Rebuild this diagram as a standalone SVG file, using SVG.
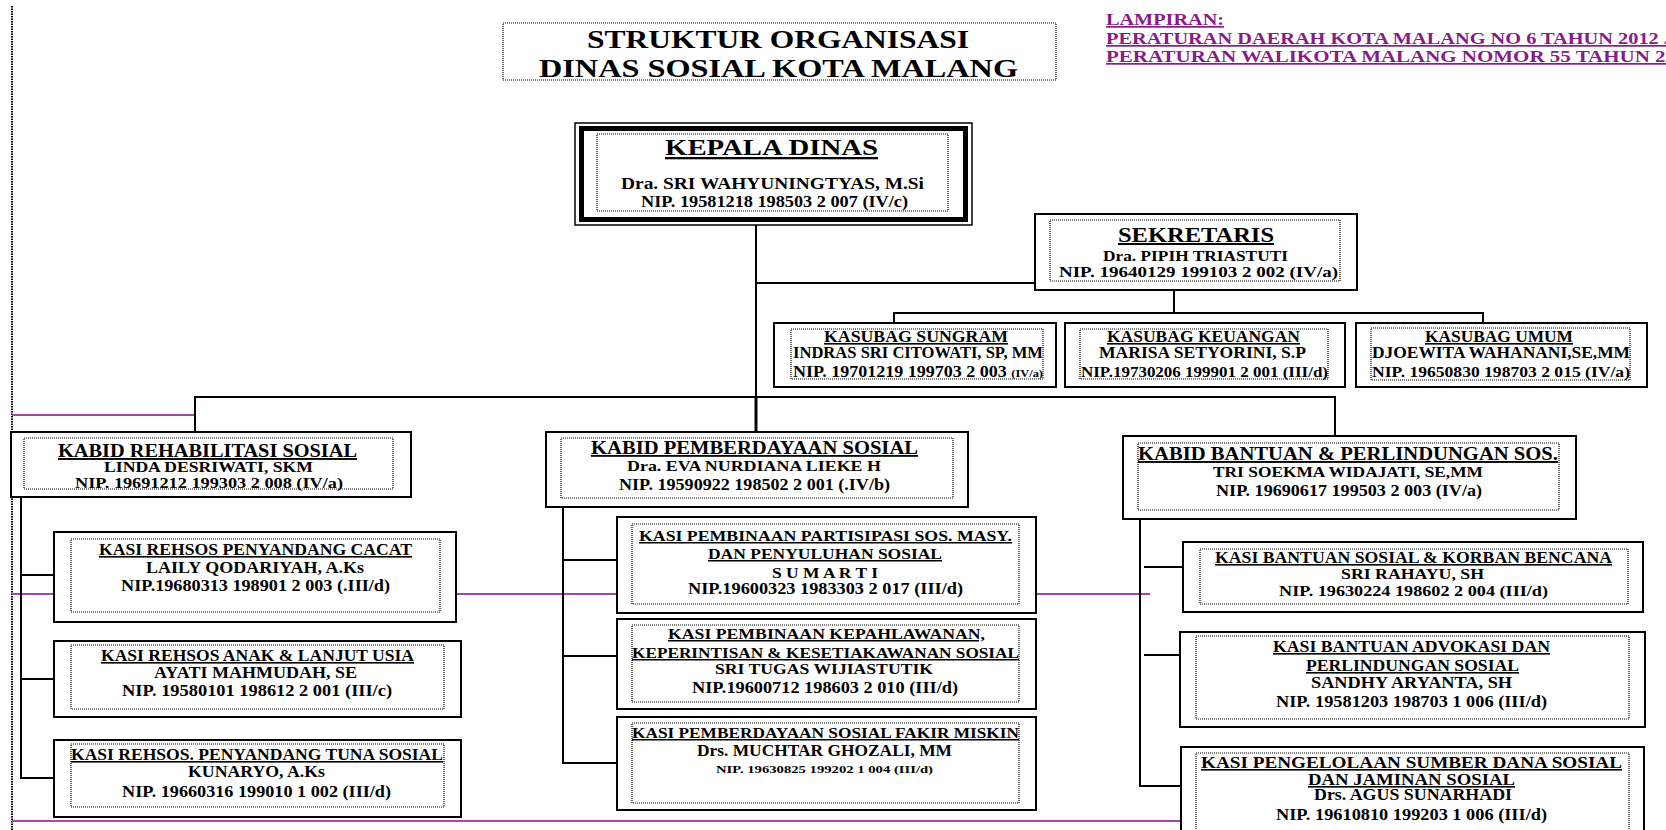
<svg xmlns="http://www.w3.org/2000/svg" width="1666" height="830" viewBox="0 0 1666 830">
<style>
.bg{fill:#fff}
.box{fill:#fff;stroke:#000;stroke-width:2}
.dot{fill:none;stroke:#000;stroke-width:1.2;stroke-dasharray:1 1}
.t{font-family:"Liberation Serif","Times New Roman",serif;font-weight:bold;fill:#000;font-size:16px}
.u{text-decoration:underline}
.p{fill:#8a1a8a;font-size:17px}
.conn{stroke:#000;stroke-width:2;fill:none}
.pur{stroke:#a347a8;stroke-width:2;fill:none}
.vdot{stroke:#000;stroke-width:2;stroke-dasharray:1.5 1;fill:none}
</style>
<rect class="bg" x="0" y="0" width="1666" height="830"/>

<g id="connectors">
<line class="vdot" x1="12" y1="6" x2="12" y2="830"/>
<line class="pur" x1="12" y1="415" x2="195" y2="415"/>
<line class="pur" x1="12" y1="594" x2="1150" y2="594"/>
<line class="pur" x1="12" y1="821" x2="1181" y2="821"/>
<line class="conn" x1="756" y1="225" x2="756" y2="397"/>
<line class="conn" x1="756" y1="397" x2="756" y2="432" style="stroke-width:3"/>
<line class="conn" x1="756" y1="283" x2="1035" y2="283"/>
<polyline class="conn" points="1174,290 1174,313"/>
<polyline class="conn" points="894,323 894,313 1483,313 1483,323"/>
<polyline class="conn" points="195,432 195,397 1335,397 1335,436"/>
<polyline class="conn" points="21,497 21,778 54,778"/>
<line class="conn" x1="21" y1="575" x2="54" y2="575"/>
<line class="conn" x1="21" y1="679" x2="54" y2="679"/>
<polyline class="conn" points="563,507 563,763 617,763"/>
<line class="conn" x1="563" y1="560" x2="617" y2="560"/>
<line class="conn" x1="563" y1="656" x2="617" y2="656"/>
<polyline class="conn" points="1140,519 1140,786 1181,786"/>
<line class="conn" x1="1144" y1="567" x2="1183" y2="567"/>
<line class="conn" x1="1144" y1="655" x2="1180" y2="655"/>
</g>

<g id="title">
<rect class="dot" x="503" y="23" width="553" height="57"/>
<text class="t" x="587" y="48" style="font-size:25px" textLength="382" lengthAdjust="spacingAndGlyphs">STRUKTUR ORGANISASI</text>
<text class="t" x="539" y="77" style="font-size:25px" textLength="479" lengthAdjust="spacingAndGlyphs">DINAS SOSIAL KOTA MALANG</text>
</g>

<g id="lampiran">
<text class="t p u" x="1106" y="25" textLength="118" lengthAdjust="spacingAndGlyphs">LAMPIRAN:</text>
<text class="t p u" x="1106" y="44" textLength="568" lengthAdjust="spacingAndGlyphs">PERATURAN DAERAH KOTA MALANG NO 6 TAHUN 2012 J</text>
<text class="t p u" x="1106" y="62" textLength="570" lengthAdjust="spacingAndGlyphs">PERATURAN WALIKOTA MALANG NOMOR 55 TAHUN 20</text>
</g>

<g id="kepala-dinas">
<rect x="575" y="123" width="397" height="102" fill="#fff" stroke="#000" stroke-width="1.5"/>
<rect x="581.5" y="128.5" width="384" height="91" fill="none" stroke="#000" stroke-width="5"/>
<rect class="dot" x="597" y="134" width="351" height="77"/>
<text class="t u" x="665" y="155" style="font-size:23px" textLength="213" lengthAdjust="spacingAndGlyphs">KEPALA DINAS</text>
<text class="t" x="621" y="189" textLength="303" lengthAdjust="spacingAndGlyphs">Dra. SRI WAHYUNINGTYAS, M.Si</text>
<text class="t" x="641" y="207" textLength="267" lengthAdjust="spacingAndGlyphs">NIP. 19581218 198503 2 007 (IV/c)</text>
</g>

<g id="sekretaris">
<rect class="box" x="1035" y="214" width="322" height="76"/>
<rect class="dot" x="1050" y="220" width="290" height="61"/>
<text class="t u" x="1118" y="242" style="font-size:20px" textLength="156" lengthAdjust="spacingAndGlyphs">SEKRETARIS</text>
<text class="t" x="1103" y="261" style="font-size:14px" textLength="185" lengthAdjust="spacingAndGlyphs">Dra. PIPIH TRIASTUTI</text>
<text class="t" x="1059" y="277" style="font-size:14px" textLength="279" lengthAdjust="spacingAndGlyphs">NIP. 19640129 199103 2 002 (IV/a)</text>
</g>

<g id="kasubag-sungram">
<rect class="box" x="774" y="323" width="282" height="64"/>
<rect class="dot" x="791" y="329" width="252" height="50"/>
<text class="t u" x="824" y="342" textLength="184" lengthAdjust="spacingAndGlyphs">KASUBAG SUNGRAM</text>
<text class="t" x="793" y="358" textLength="250" lengthAdjust="spacingAndGlyphs">INDRAS SRI CITOWATI, SP, MM</text>
<text class="t" x="793" y="377" textLength="250" lengthAdjust="spacingAndGlyphs">NIP. 19701219 199703 2 003 <tspan style="font-size:11px">(IV/a)</tspan></text>
</g>

<g id="kasubag-keuangan">
<rect class="box" x="1065" y="323" width="280" height="64"/>
<rect class="dot" x="1080" y="329" width="248" height="50"/>
<text class="t u" x="1107" y="342" textLength="193" lengthAdjust="spacingAndGlyphs">KASUBAG KEUANGAN</text>
<text class="t" x="1099" y="358" textLength="207" lengthAdjust="spacingAndGlyphs">MARISA SETYORINI, S.P</text>
<text class="t" x="1081" y="377" style="font-size:15px" textLength="247" lengthAdjust="spacingAndGlyphs">NIP.19730206 199901 2 001 (III/d)</text>
</g>

<g id="kasubag-umum">
<rect class="box" x="1356" y="323" width="291" height="64"/>
<rect class="dot" x="1371" y="328" width="259" height="52"/>
<text class="t u" x="1425" y="342" textLength="148" lengthAdjust="spacingAndGlyphs">KASUBAG UMUM</text>
<text class="t" x="1372" y="358" textLength="258" lengthAdjust="spacingAndGlyphs">DJOEWITA WAHANANI,SE,MM</text>
<text class="t" x="1372" y="377" style="font-size:15px" textLength="258" lengthAdjust="spacingAndGlyphs">NIP. 19650830 198703 2 015 (IV/a)</text>
</g>

<g id="kabid-rehabilitasi">
<rect class="box" x="11" y="432" width="400" height="65"/>
<rect class="dot" x="24" y="438" width="369" height="51"/>
<text class="t u" x="58" y="457" style="font-size:19px" textLength="299" lengthAdjust="spacingAndGlyphs">KABID REHABILITASI SOSIAL</text>
<text class="t" x="104" y="472" style="font-size:15px" textLength="209" lengthAdjust="spacingAndGlyphs">LINDA DESRIWATI, SKM</text>
<text class="t" x="75" y="488" style="font-size:15px" textLength="268" lengthAdjust="spacingAndGlyphs">NIP. 19691212 199303 2 008 (IV/a)</text>
</g>

<g id="kasi-rehsos-cacat">
<rect class="box" x="54" y="532" width="402" height="90"/>
<rect class="dot" x="71" y="539" width="369" height="73"/>
<text class="t u" x="99" y="555" textLength="313" lengthAdjust="spacingAndGlyphs">KASI REHSOS PENYANDANG CACAT</text>
<text class="t" x="146" y="573" textLength="218" lengthAdjust="spacingAndGlyphs">LAILY QODARIYAH, A.Ks</text>
<text class="t" x="121" y="591" textLength="269" lengthAdjust="spacingAndGlyphs">NIP.19680313 198901 2 003 (.III/d)</text>
</g>

<g id="kasi-rehsos-anak">
<rect class="box" x="54" y="641" width="407" height="76"/>
<rect class="dot" x="71" y="645" width="373" height="64"/>
<text class="t u" x="101" y="661" textLength="313" lengthAdjust="spacingAndGlyphs">KASI REHSOS ANAK &amp; LANJUT USIA</text>
<text class="t" x="154" y="678" textLength="203" lengthAdjust="spacingAndGlyphs">AYATI MAHMUDAH, SE</text>
<text class="t" x="122" y="696" textLength="270" lengthAdjust="spacingAndGlyphs">NIP. 19580101 198612 2 001 (III/c)</text>
</g>

<g id="kasi-rehsos-tuna">
<rect class="box" x="54" y="740" width="407" height="77"/>
<rect class="dot" x="71" y="744" width="373" height="63"/>
<text class="t u" x="71" y="760" textLength="372" lengthAdjust="spacingAndGlyphs">KASI REHSOS. PENYANDANG TUNA SOSIAL</text>
<text class="t" x="188" y="777" textLength="137" lengthAdjust="spacingAndGlyphs">KUNARYO, A.Ks</text>
<text class="t" x="122" y="797" textLength="269" lengthAdjust="spacingAndGlyphs">NIP. 19660316 199010 1 002 (III/d)</text>
</g>

<g id="kabid-pemberdayaan">
<rect class="box" x="546" y="432" width="422" height="75"/>
<rect class="dot" x="561" y="438" width="392" height="60"/>
<text class="t u" x="591" y="454" style="font-size:18px" textLength="327" lengthAdjust="spacingAndGlyphs">KABID PEMBERDAYAAN SOSIAL</text>
<text class="t" x="627" y="471" style="font-size:15px" textLength="254" lengthAdjust="spacingAndGlyphs">Dra. EVA NURDIANA LIEKE H</text>
<text class="t" x="619" y="490" textLength="271" lengthAdjust="spacingAndGlyphs">NIP. 19590922 198502 2 001 (.IV/b)</text>
</g>

<g id="kasi-partisipasi">
<rect class="box" x="617" y="517" width="419" height="96"/>
<rect class="dot" x="632" y="524" width="387" height="80"/>
<text class="t u" x="639" y="541" style="font-size:15px" textLength="373" lengthAdjust="spacingAndGlyphs">KASI PEMBINAAN PARTISIPASI SOS. MASY.</text>
<text class="t u" x="708" y="559" style="font-size:15px" textLength="234" lengthAdjust="spacingAndGlyphs">DAN PENYULUHAN SOSIAL</text>
<text class="t" x="772" y="578" style="font-size:15px" textLength="106" lengthAdjust="spacingAndGlyphs">S U M A R T I</text>
<text class="t" x="688" y="594" textLength="275" lengthAdjust="spacingAndGlyphs">NIP.19600323 1983303 2 017 (III/d)</text>
</g>

<g id="kasi-kepahlawanan">
<rect class="box" x="617" y="619" width="419" height="90"/>
<rect class="dot" x="632" y="625" width="387" height="77"/>
<text class="t u" x="668" y="639" style="font-size:15px" textLength="317" lengthAdjust="spacingAndGlyphs">KASI PEMBINAAN KEPAHLAWANAN,</text>
<text class="t u" x="632" y="658" style="font-size:15px" textLength="387" lengthAdjust="spacingAndGlyphs">KEPERINTISAN &amp; KESETIAKAWANAN SOSIAL</text>
<text class="t" x="715" y="674" style="font-size:15px" textLength="218" lengthAdjust="spacingAndGlyphs">SRI TUGAS WIJIASTUTIK</text>
<text class="t" x="692" y="693" textLength="266" lengthAdjust="spacingAndGlyphs">NIP.19600712 198603 2 010 (III/d)</text>
</g>

<g id="kasi-fakir-miskin">
<rect class="box" x="617" y="717" width="419" height="93"/>
<rect class="dot" x="632" y="723" width="387" height="80"/>
<text class="t u" x="632" y="738" style="font-size:15px" textLength="387" lengthAdjust="spacingAndGlyphs">KASI PEMBERDAYAAN SOSIAL FAKIR MISKIN</text>
<text class="t" x="697" y="756" textLength="255" lengthAdjust="spacingAndGlyphs">Drs. MUCHTAR GHOZALI, MM</text>
<text class="t" x="716" y="773" style="font-size:10px" textLength="217" lengthAdjust="spacingAndGlyphs">NIP. 19630825 199202 1 004 (III/d)</text>
</g>

<g id="kabid-bantuan">
<rect class="box" x="1123" y="436" width="453" height="83"/>
<rect class="dot" x="1138" y="443" width="421" height="67"/>
<text class="t u" x="1138" y="460" style="font-size:19px" textLength="420" lengthAdjust="spacingAndGlyphs">KABID BANTUAN &amp; PERLINDUNGAN SOS.</text>
<text class="t" x="1213" y="477" style="font-size:15px" textLength="270" lengthAdjust="spacingAndGlyphs">TRI SOEKMA WIDAJATI, SE,MM</text>
<text class="t" x="1216" y="496" textLength="266" lengthAdjust="spacingAndGlyphs">NIP. 19690617 199503 2 003 (IV/a)</text>
</g>

<g id="kasi-bantuan-bencana">
<rect class="box" x="1183" y="542" width="460" height="70"/>
<rect class="dot" x="1200" y="549" width="428" height="55"/>
<text class="t u" x="1215" y="563" textLength="397" lengthAdjust="spacingAndGlyphs">KASI BANTUAN SOSIAL &amp; KORBAN BENCANA</text>
<text class="t" x="1341" y="579" style="font-size:15px" textLength="143" lengthAdjust="spacingAndGlyphs">SRI RAHAYU, SH</text>
<text class="t" x="1279" y="596" style="font-size:15px" textLength="269" lengthAdjust="spacingAndGlyphs">NIP. 19630224 198602 2 004 (III/d)</text>
</g>

<g id="kasi-advokasi">
<rect class="box" x="1180" y="632" width="465" height="95"/>
<rect class="dot" x="1196" y="636" width="433" height="83"/>
<text class="t u" x="1273" y="652" textLength="277" lengthAdjust="spacingAndGlyphs">KASI BANTUAN ADVOKASI DAN</text>
<text class="t u" x="1306" y="671" textLength="213" lengthAdjust="spacingAndGlyphs">PERLINDUNGAN SOSIAL</text>
<text class="t" x="1311" y="688" textLength="201" lengthAdjust="spacingAndGlyphs">SANDHY ARYANTA, SH</text>
<text class="t" x="1276" y="707" textLength="271" lengthAdjust="spacingAndGlyphs">NIP. 19581203 198703 1 006 (III/d)</text>
</g>

<g id="kasi-sumber-dana">
<rect class="box" x="1181" y="747" width="463" height="100"/>
<rect class="dot" x="1196" y="753" width="433" height="88"/>
<text class="t u" x="1201" y="768" textLength="421" lengthAdjust="spacingAndGlyphs">KASI PENGELOLAAN SUMBER DANA SOSIAL</text>
<text class="t u" x="1308" y="785" textLength="207" lengthAdjust="spacingAndGlyphs">DAN JAMINAN SOSIAL</text>
<text class="t" x="1314" y="800" textLength="198" lengthAdjust="spacingAndGlyphs">Drs. AGUS SUNARHADI</text>
<text class="t" x="1276" y="820" textLength="271" lengthAdjust="spacingAndGlyphs">NIP. 19610810 199203 1 006 (III/d)</text>
</g>
</svg>
